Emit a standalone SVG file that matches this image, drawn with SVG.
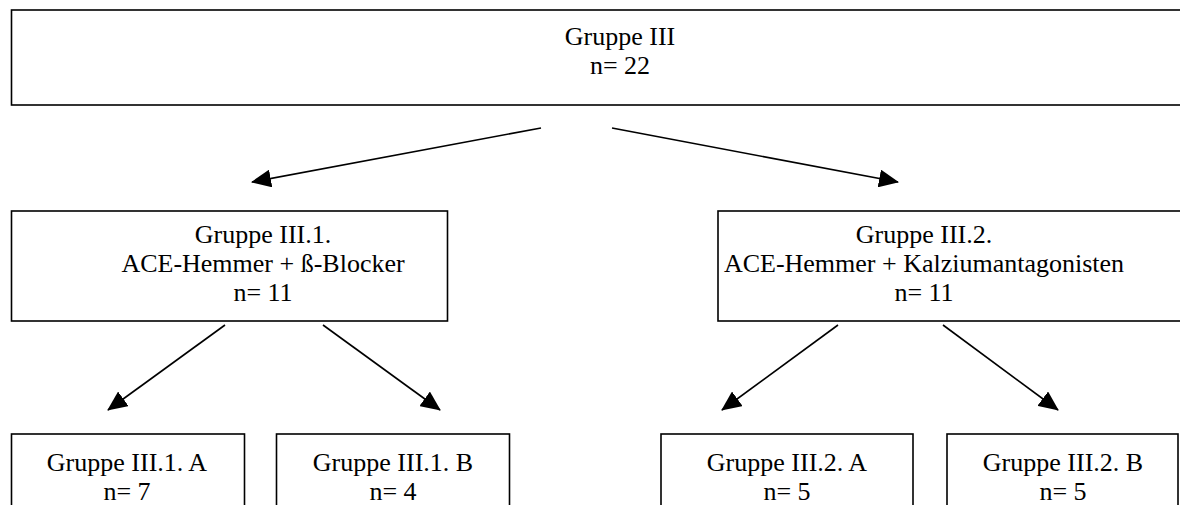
<svg xmlns="http://www.w3.org/2000/svg" width="1180" height="505" viewBox="0 0 1180 505">
<style>
.box{fill:#fff;stroke:#000;stroke-width:1.6}
.t{font-family:"Liberation Serif","Times New Roman",serif;font-size:26px;fill:#000;text-anchor:middle}
.c{stroke:#000;stroke-width:1.6;fill:none;marker-end:url(#ah)}
</style>
<defs>
<marker id="ah" viewBox="0 0 20 18" refX="19" refY="9" markerWidth="20" markerHeight="18" markerUnits="userSpaceOnUse" orient="auto">
<path d="M0,0 L20,9 L0,18 z" fill="#000"/>
</marker>
</defs>
<rect width="1180" height="505" fill="#fff"/>
<g id="n-top">
<rect class="box" x="11.5" y="10" width="1180" height="95"/>
<text class="t" x="620" y="45">Gruppe III</text>
<text class="t" x="620" y="74">n= 22</text>
</g>
<g id="n-III1">
<rect class="box" x="11.5" y="211" width="436" height="110"/>
<text class="t" x="263" y="243">Gruppe III.1.</text>
<text class="t" x="263" y="272">ACE-Hemmer + ß-Blocker</text>
<text class="t" x="263" y="301">n= 11</text>
</g>
<g id="n-III2">
<rect class="box" x="718" y="211" width="480" height="110"/>
<text class="t" x="924" y="243">Gruppe III.2.</text>
<text class="t" x="924" y="272">ACE-Hemmer + Kalziumantagonisten</text>
<text class="t" x="924" y="301">n= 11</text>
</g>
<g id="n-III1A">
<rect class="box" x="11.5" y="434" width="233" height="90"/>
<text class="t" x="127" y="471">Gruppe III.1. A</text>
<text class="t" x="127" y="500">n= 7</text>
</g>
<g id="n-III1B">
<rect class="box" x="276.5" y="434" width="233" height="90"/>
<text class="t" x="393" y="471">Gruppe III.1. B</text>
<text class="t" x="393" y="500">n= 4</text>
</g>
<g id="n-III2A">
<rect class="box" x="661" y="434" width="252" height="90"/>
<text class="t" x="787" y="471">Gruppe III.2. A</text>
<text class="t" x="787" y="500">n= 5</text>
</g>
<g id="n-III2B">
<rect class="box" x="947" y="434" width="231" height="90"/>
<text class="t" x="1063" y="471">Gruppe III.2. B</text>
<text class="t" x="1063" y="500">n= 5</text>
</g>
<g id="connectors">
<line class="c" x1="541" y1="128" x2="252" y2="182"/>
<line class="c" x1="612" y1="128" x2="898" y2="182"/>
<line class="c" x1="225" y1="325" x2="108" y2="410"/>
<line class="c" x1="323" y1="325" x2="440" y2="410"/>
<line class="c" x1="838" y1="325" x2="722" y2="410"/>
<line class="c" x1="943" y1="325" x2="1058" y2="410"/>
</g>
</svg>
